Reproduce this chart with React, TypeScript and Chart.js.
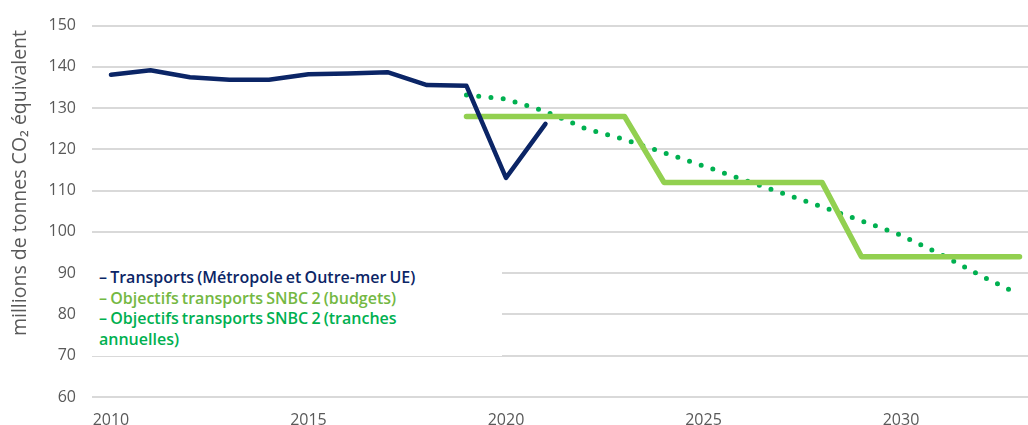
import React, { useEffect, useRef } from "react";
import { Chart, registerables } from "chart.js";

Chart.register(...registerables);

const transportYears = [2010, 2011, 2012, 2013, 2014, 2015, 2016, 2017, 2018, 2019, 2020, 2021];
const transportValues = [138.1, 139.2, 137.5, 136.9, 136.9, 138.2, 138.4, 138.7, 135.6, 135.4, 113.1, 126.2];

const budgetYears = [2019, 2020, 2021, 2022, 2023, 2024, 2025, 2026, 2027, 2028, 2029, 2030, 2031, 2032, 2033];
const budgetValues = [128, 128, 128, 128, 128, 112, 112, 112, 112, 112, 94, 94, 94, 94, 94];

const trancheYears = [2019, 2020, 2021, 2022, 2023, 2024, 2025, 2026, 2027, 2028, 2029, 2030, 2031, 2032, 2033];
const trancheValues = [133.2, 132.2, 129.2, 125.1, 122.4, 119.2, 116.0, 112.7, 109.4, 106.1, 102.7, 99.2, 94.6, 89.5, 84.8];

const xTickYears = [2010, 2015, 2020, 2025, 2030];

const seriesLabels = [
  "Transports (Métropole et Outre-mer UE)",
  "Objectifs transports SNBC 2 (budgets)",
  "Objectifs transports SNBC 2 (tranches annuelles)",
];

const yTitle = "millions de tonnes CO₂ équivalent";

const NAVY = "#0b2566";
const LIGHT_GREEN = "#92d050";
const GREEN = "#00b050";
const TEXT = "#595959";
const FONT = "'Open Sans', 'Noto Sans', sans-serif";

const toPoints = (xs: number[], ys: number[]) => xs.map((x, i) => ({ x, y: ys[i] }));

const yTitlePlugin = {
  id: "yTitlePlugin",
  afterDraw(chart: any) {
    const ctx = chart.ctx;
    ctx.save();
    ctx.translate(20, 183);
    ctx.rotate(-Math.PI / 2);
    ctx.fillStyle = TEXT;
    ctx.font = `19.5px ${FONT}`;
    ctx.textAlign = "center";
    ctx.textBaseline = "middle";
    ctx.fillText(yTitle, 0, 0);
    ctx.restore();
  },
};

export default function App() {
  const canvasRef = useRef<HTMLCanvasElement | null>(null);

  useEffect(() => {
    if (!canvasRef.current) return;
    const chart = new Chart(canvasRef.current, {
      type: "line",
      data: {
        datasets: [
          {
            label: seriesLabels[0],
            data: toPoints(transportYears, transportValues),
            borderColor: NAVY,
            borderWidth: 4.5,
            borderJoinStyle: "round",
            borderCapStyle: "round",
            pointRadius: 0,
            tension: 0,
          },
          {
            label: seriesLabels[1],
            data: toPoints(budgetYears, budgetValues),
            borderColor: LIGHT_GREEN,
            borderWidth: 5.5,
            borderJoinStyle: "round",
            borderCapStyle: "round",
            pointRadius: 0,
            tension: 0,
          },
          {
            label: seriesLabels[2],
            data: toPoints(trancheYears, trancheValues),
            borderColor: GREEN,
            borderWidth: 5,
            borderCapStyle: "round",
            borderDash: [0, 12.3],
            pointRadius: 0,
            tension: 0,
          },
        ],
      },
      options: {
        animation: false,
        responsive: true,
        maintainAspectRatio: false,
        layout: { padding: { top: 22, left: 0, right: 0, bottom: 0 } },
        plugins: {
          legend: { display: false },
          tooltip: { enabled: false },
        },
        scales: {
          x: {
            type: "linear",
            min: 2009.52,
            max: 2033.215,
            grid: { display: false },
            border: { display: false },
            afterBuildTicks: (axis: any) => {
              axis.ticks = xTickYears.map((v) => ({ value: v }));
            },
            afterFit: (axis: any) => {
              axis.height = 28;
            },
            ticks: {
              color: TEXT,
              font: { family: FONT, size: 16 },
              padding: 6,
              maxRotation: 0,
              callback: (v: any) => String(v),
            },
          },
          y: {
            min: 60,
            max: 150,
            ticks: {
              stepSize: 10,
              color: TEXT,
              font: { family: FONT, size: 16 },
              padding: 16,
            },
            grid: { color: "#d9d9d9", lineWidth: 2, drawTicks: false },
            border: { display: false },
            afterFit: (axis: any) => {
              axis.width = 92;
            },
          },
        },
      },
      plugins: [yTitlePlugin],
    });
    return () => chart.destroy();
  }, []);

  const colors = [NAVY, "#74b843", GREEN];

  return (
    <div style={{ position: "absolute", left: 0, top: 0, width: 1028, height: 425, background: "#fff" }}>
      <canvas ref={canvasRef} style={{ display: "block" }} />
      <div
        style={{
          position: "absolute",
          left: 92,
          top: 262,
          width: 410,
          height: 94,
          background: "#fff",
          fontFamily: FONT,
          fontSize: 16,
          fontWeight: 600,
          lineHeight: "20.5px",
          paddingLeft: 7,
          paddingTop: 5,
          boxSizing: "border-box",
          wordSpacing: -1,
        }}
      >
        <div style={{ color: colors[0] }}>– {seriesLabels[0]}</div>
        <div style={{ color: colors[1] }}>– {seriesLabels[1]}</div>
        <div style={{ color: colors[2], width: 345 }}>– {seriesLabels[2]}</div>
      </div>
    </div>
  );
}
